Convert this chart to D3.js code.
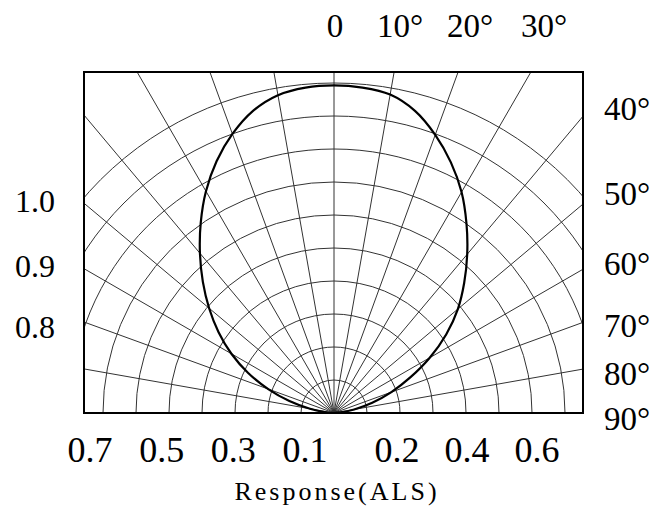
<!DOCTYPE html>
<html>
<head>
<meta charset="utf-8">
<script src="https://cdn.jsdelivr.net/npm/d3@7"></script>
<style>
  body { margin: 0; background: #fff; }
  text { font-family: "Liberation Serif", "Times New Roman", serif; fill: #000; }
</style>
</head>
<body>
<svg id="chart" width="671" height="511"></svg>
<script>
// angle (deg, 0 = straight up) and relative response
const angles   = [-90, -85, -80, -75, -70, -65, -60, -55, -50, -45, -40, -35, -30, -25, -20, -15, -10, -5,
                  0, 5, 10, 15, 20, 25, 30, 35, 40, 45, 50, 55, 60, 65, 70, 75, 80, 85, 90]
const response = [0, 0.025, 0.074, 0.14, 0.212, 0.287, 0.359, 0.427, 0.494, 0.562, 0.632, 0.704, 0.776, 0.842, 0.9, 0.948, 0.978, 0.99,
                  0.993, 0.99, 0.98, 0.948, 0.897, 0.838, 0.773, 0.7, 0.628, 0.558, 0.49, 0.415, 0.335, 0.255, 0.185, 0.12, 0.062, 0.02, 0]

// grid
const spokeAngles = d3.range(-90, 91, 10)
const rings = d3.range(0.1, 1.01, 0.1)

// labels
const topLabels    = ['0', '10°', '20°', '30°']
const rightLabels  = ['40°', '50°', '60°', '70°', '80°', '90°']
const leftLabels   = ['1.0', '0.9', '0.8']
const bottomLeft   = ['0.7', '0.5', '0.3', '0.1']
const bottomRight  = ['0.2', '0.4', '0.6']
const axisTitle    = 'Response(ALS)'

const svg = d3.select('#chart')
const box = {x0: 84, x1: 583, y0: 72, y1: 413}
const origin = {x: 334, y: 413}
const r = d3.scaleLinear().domain([0, 1]).range([0, 330])
const rad = d => d * Math.PI / 180

svg.append('defs').append('clipPath').attr('id', 'box')
    .append('rect')
    .attr('x', box.x0).attr('y', box.y0)
    .attr('width', box.x1 - box.x0).attr('height', box.y1 - box.y0)

const plot = svg.append('g').attr('clip-path', 'url(#box)')
const g = plot.append('g').attr('transform', `translate(${origin.x},${origin.y})`)

// rings
g.selectAll('circle.ring')
    .data(rings)
    .enter()
    .append('circle')
    .attr('class', 'ring')
    .attr('r', d => r(d))
    .attr('fill', 'none')
    .attr('stroke', '#333')
    .attr('stroke-width', 1)

// spokes
g.selectAll('line.spoke')
    .data(spokeAngles)
    .enter()
    .append('line')
    .attr('class', 'spoke')
    .attr('x1', 0).attr('y1', 0)
    .attr('x2', d => Math.sin(rad(d)) * 600)
    .attr('y2', d => -Math.cos(rad(d)) * 600)
    .attr('stroke', '#333')
    .attr('stroke-width', 1)

// response curve
const pts = angles.map((a, i) => [rad(a), r(response[i])])
const line = d3.lineRadial().curve(d3.curveCatmullRom.alpha(0.5))
g.append('path')
    .attr('d', line(pts))
    .attr('fill', 'none')
    .attr('stroke', '#000')
    .attr('stroke-width', 2.2)

// frame
svg.append('rect')
    .attr('x', box.x0).attr('y', box.y0)
    .attr('width', box.x1 - box.x0).attr('height', box.y1 - box.y0)
    .attr('fill', 'none')
    .attr('stroke', '#000')
    .attr('stroke-width', 2)

// top angle labels
const topX = [335, 400, 470, 544]
svg.selectAll('text.top')
    .data(topLabels)
    .enter()
    .append('text')
    .attr('class', 'top')
    .attr('x', (d, i) => topX[i])
    .attr('y', 37)
    .attr('text-anchor', 'middle')
    .style('font-size', '33px')
    .text(d => d)

// right angle labels
const rightY = [120, 205, 275, 337, 385, 430]
svg.selectAll('text.right')
    .data(rightLabels)
    .enter()
    .append('text')
    .attr('class', 'right')
    .attr('x', 604)
    .attr('y', (d, i) => rightY[i])
    .style('font-size', '33px')
    .text(d => d)

// left labels
const leftY = [212, 277, 338]
svg.selectAll('text.left')
    .data(leftLabels)
    .enter()
    .append('text')
    .attr('class', 'left')
    .attr('x', 15)
    .attr('y', (d, i) => leftY[i])
    .style('font-size', '32px')
    .text(d => d)

// bottom labels
const xl = d3.scalePoint().domain(bottomLeft).range([90, 305])
const xr = d3.scalePoint().domain(bottomRight).range([397, 537])
svg.selectAll('text.bl')
    .data(bottomLeft)
    .enter()
    .append('text')
    .attr('x', d => xl(d))
    .attr('y', 462)
    .attr('text-anchor', 'middle')
    .style('font-size', '36px')
    .text(d => d)
svg.selectAll('text.br')
    .data(bottomRight)
    .enter()
    .append('text')
    .attr('x', d => xr(d))
    .attr('y', 462)
    .attr('text-anchor', 'middle')
    .style('font-size', '36px')
    .text(d => d)

svg.append('text')
    .attr('x', 337)
    .attr('y', 500)
    .attr('text-anchor', 'middle')
    .style('font-size', '26px')
    .style('letter-spacing', '3px')
    .text(axisTitle)
</script>
</body>
</html>
